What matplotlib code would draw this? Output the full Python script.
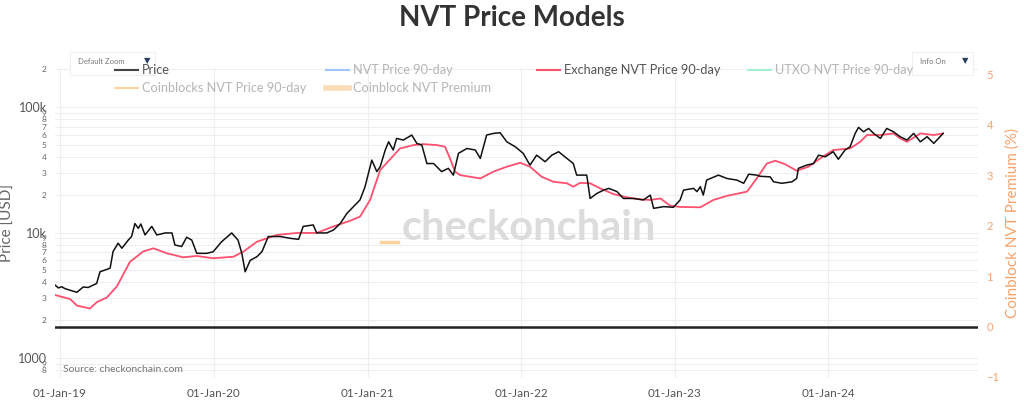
import pandas as pd
import matplotlib
matplotlib.use('Agg')
import matplotlib.pyplot as plt
import matplotlib.dates as mdates
from matplotlib.lines import Line2D
from matplotlib.patches import Rectangle

plt.rcParams['font.family'] = ['Lato', 'DejaVu Sans']

START = pd.Timestamp('2019-01-01')

# BTC price (USD); days counted from 01-Jan-19
price_days = [
    -12, -4, 4, 12, 40, 55, 67, 87, 95, 119, 126, 138, 147, 162, 170, 178, 186, 192, 202, 218,
    230, 250, 266, 273, 289, 301, 313, 325, 349, 364, 384, 408, 423, 432, 440, 452, 468, 480, 495, 523,
    547, 567, 578, 602, 610, 634, 650, 666, 682, 705, 713, 725, 741, 753, 761, 773, 781, 792, 800, 816,
    836, 848, 860, 872, 888, 907, 923, 935, 947, 967, 987, 999, 1014, 1030, 1046, 1062, 1082, 1101, 1117, 1133,
    1153, 1169, 1185, 1205, 1220, 1228, 1252, 1260, 1276, 1292, 1304, 1324, 1339, 1363, 1387, 1403, 1411, 1435, 1458, 1474,
    1482, 1506, 1514, 1522, 1529, 1537, 1565, 1585, 1609, 1625, 1637, 1656, 1664, 1688, 1696, 1716, 1740, 1751, 1755, 1775,
    1791, 1803, 1819, 1838, 1850, 1866, 1878, 1890, 1898, 1910, 1922, 1934, 1950, 1965, 1981, 1997, 2013, 2029, 2045, 2061,
    2077, 2099,
]
price_values = [
    3820, 3620, 3700, 3570, 3340, 3680, 3650, 3930, 4870, 5200, 7050, 8230, 7500, 8700, 9300, 11800, 10800, 11700, 9570, 11200,
    9570, 9930, 9930, 7960, 7740, 9180, 8720, 6830, 6830, 7030, 8450, 9930, 8720, 6850, 4870, 6010, 6420, 7050, 9300, 9300,
    9000, 8830, 11200, 11500, 9930, 9930, 10480, 11800, 14230, 17080, 18200, 23200, 37800, 30600, 33500, 45500, 52900, 45500, 56300, 54600,
    59900, 51400, 49800, 35500, 35500, 30600, 32500, 28700, 42800, 46800, 45500, 39000, 59900, 61700, 62500, 52900, 48300, 42800, 34500, 41400,
    36700, 41400, 44100, 39000, 35500, 28700, 28700, 18700, 20500, 21800, 22500, 21200, 18700, 18700, 18200, 19900, 15600, 16100, 15900, 18200,
    21800, 22500, 21200, 23200, 19900, 26200, 28700, 27000, 26200, 24700, 29200, 28700, 28100, 27800, 25400, 24700, 25400, 27000, 32500, 34500,
    35500, 41400, 40200, 44100, 38400, 45500, 48300, 61700, 68900, 63600, 67600, 61700, 56300, 67600, 63600, 58100, 54600, 61700, 52900, 58100,
    51400, 61700,
]

# Exchange NVT Price 90-day (USD)
exch_days = [
    -12, 24, 40, 71, 88, 111, 135, 166, 197, 222, 254, 293, 325, 364, 412, 436, 468, 515, 563, 610,
    650, 689, 713, 737, 761, 808, 840, 864, 896, 915, 927, 939, 951, 999, 1030, 1062, 1094, 1117, 1145, 1173,
    1205, 1220, 1236, 1260, 1284, 1315, 1347, 1379, 1403, 1427, 1450, 1474, 1522, 1553, 1585, 1633, 1656, 1680, 1700, 1723,
    1751, 1779, 1807, 1838, 1878, 1902, 1918, 1950, 1981, 1997, 2013, 2045, 2077, 2099,
]
exch_values = [
    3180, 2950, 2620, 2480, 2800, 3030, 3720, 5830, 7050, 7490, 6830, 6350, 6510, 6240, 6420, 7050, 8450, 9570, 9930, 9930,
    11200, 12400, 13400, 18200, 31500, 46800, 49800, 50700, 49800, 48300, 39000, 30600, 28700, 27000, 30600, 33500, 36000, 33500, 27800, 25400,
    24700, 23200, 24900, 24700, 22500, 20300, 19100, 18400, 18200, 18700, 16400, 16000, 15900, 18200, 19600, 21200, 27000, 35500, 37400, 35100,
    31100, 33500, 39000, 45500, 46800, 52900, 59900, 59900, 61700, 56300, 52900, 61700, 59900, 61700,
]

# Coinblock NVT Premium (%) - only a short stub is visible
premium_days = [762, 804]
premium_values = [1.68, 1.68]

year_ticks = ['2019-01-01', '2020-01-01', '2021-01-01', '2022-01-01', '2023-01-01', '2024-01-01']

legend_labels = ['Price', 'NVT Price 90-day', 'Exchange NVT Price 90-day', 'UTXO NVT Price 90-day',
                 'Coinblocks NVT Price 90-day', 'Coinblock NVT Premium']
legend_colors = ['#444444', '#9ec5fe', '#ff506e', '#a6f0d2', '#ffd39e', '#fddcb8']
legend_on = [True, False, True, False, False, False]


def to_dates(days):
    return START + pd.to_timedelta(days, unit='D')


W, H = 1024, 403
fig = plt.figure(figsize=(W / 100, H / 100), dpi=100)
ax = fig.add_axes([55 / W, 25 / H, 923 / W, 310 / H])
ax2 = ax.twinx()

ax.plot(to_dates(exch_days), exch_values, color='#ff506e', lw=1.3, zorder=3)
ax.plot(to_dates(price_days), price_values, color='#111111', lw=1.1, zorder=4)

ax.set_yscale('log')
ax.set_ylim(693, 205000)
ax.set_xlim(pd.Timestamp('2018-12-20'), pd.Timestamp('2024-12-22'))

ax.set_yticks([1000, 10000, 100000])
ax.set_yticklabels(['1000', '10k', '100k'])
minors = [k * 10 ** d for d in (2, 3, 4, 5) for k in range(2, 10) if 750 <= k * 10 ** d <= 205000]
ax.set_yticks(minors, minor=True)
ax.set_yticklabels([str(int(m / 10 ** (len(str(int(m))) - 1))) for m in minors], minor=True)
ax.tick_params(axis='y', which='major', labelsize=9, colors='#555555', length=0, pad=6)
ax.tick_params(axis='y', which='minor', labelsize=6, colors='#666666', length=0, pad=6)
ax.grid(axis='y', which='both', color='#eeeeee', lw=0.8)
ax.set_ylabel('Price [USD]', color='#666666', fontsize=11, labelpad=2)

ax.set_xticks(pd.to_datetime(year_ticks))
ax.xaxis.set_major_formatter(mdates.DateFormatter('%d-%b-%y'))
ax.tick_params(axis='x', labelsize=8.5, colors='#555555', length=0, pad=7)
ax.grid(axis='x', which='major', color='#eeeeee', lw=0.8)

for s in ax.spines.values():
    s.set_visible(False)
for s in ax2.spines.values():
    s.set_visible(False)

ax2.set_ylim(-1.02, 5.12)
ax2.axhline(0, color='#222222', lw=1.8, zorder=2)
ax2.plot(to_dates(premium_days), premium_values, color='#ffd39e', lw=2.5)
ax2.set_yticks(range(-1, 6))
ax2.tick_params(axis='y', labelsize=8, colors='#f7a26b', length=0, pad=6)
ax2.set_ylabel('Coinblock NVT Premium (%)', color='#f7a26b', fontsize=11, labelpad=4)

# watermark and source
fig.text(529 / W, 1 - 240 / H, 'checkonchain', fontsize=30, fontweight='bold', color='#dcdcdc',
         ha='center', va='baseline', zorder=0)
fig.text(63 / W, 1 - 370 / H, 'Source: checkonchain.com', fontsize=7.5, color='#777777', va='center')

# title
fig.text(0.5, 1 - 18 / H, 'NVT Price Models', fontsize=20, fontweight='bold', color='#333333',
         ha='center', va='center')

# dropdown boxes
for x0, x1, txt in [(70, 155, 'Default Zoom'), (912, 973, 'Info On')]:
    fig.add_artist(Rectangle((x0 / W, 1 - 75 / H), (x1 - x0) / W, 23 / H, transform=fig.transFigure,
                             facecolor='white', edgecolor='#f0f0f0', lw=0.8, zorder=5))
    fig.text((x0 + 8) / W, 1 - 62 / H, txt, fontsize=5.5, color='#777777', va='center', zorder=6)
    fig.text((x1 - 8) / W, 1 - 61 / H, '▼', fontsize=6, color='#2a3f5f', ha='center', va='center',
             zorder=6, family='DejaVu Sans')

# legend drawn by hand, 4 columns, on top of the boxes
for i, (lab, col, on) in enumerate(zip(legend_labels, legend_colors, legend_on)):
    x0 = 115 + 211 * (i % 4)
    y = 1 - (70 + 18 * (i // 4)) / H
    lw = 4 if lab == 'Coinblock NVT Premium' else 1.5
    fig.add_artist(Line2D([x0 / W, (x0 + 23) / W], [y, y], color=col, lw=lw, zorder=10))
    fig.text((x0 + 27) / W, y, lab, fontsize=9.2, color='#555555' if on else '#b5b5b5', va='center', zorder=10)

fig.savefig('out.png', dpi=100)
